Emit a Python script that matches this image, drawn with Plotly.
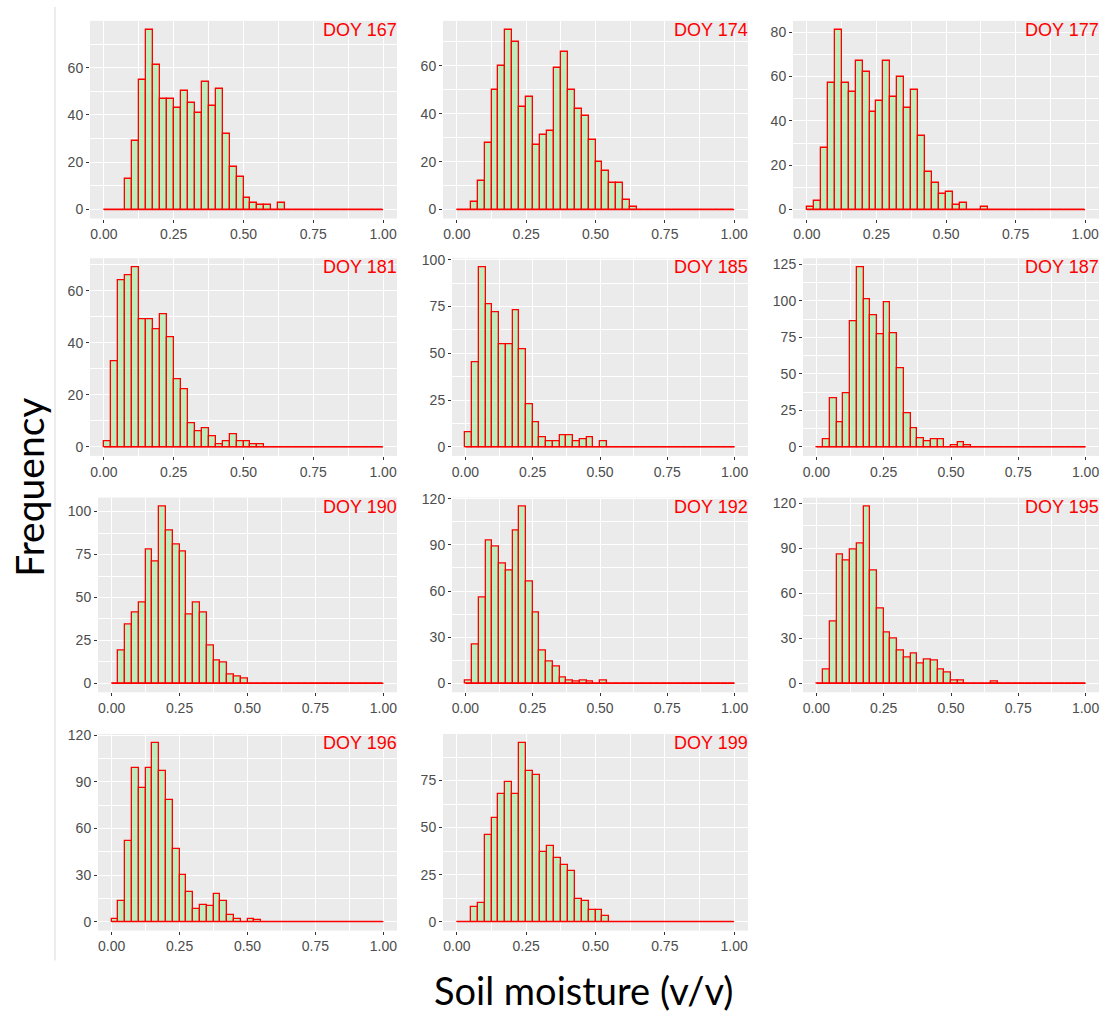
import numpy as np
import plotly.graph_objects as go

# Histogram bins: 40 bins of width 0.025 spanning soil moisture 0..1
BIN_EDGES = np.round(np.linspace(0.0, 1.0, 41), 4)
BIN_CENTERS = (BIN_EDGES[:-1] + BIN_EDGES[1:]) / 2
BIN_WIDTH = 0.025

def pad(vals):
    return vals + [0] * (40 - len(vals))

# Frequency per bin for each day of year
DOY_167 = pad([0, 0, 0, 13, 29, 55, 76, 61, 47, 47, 43, 50, 45, 41, 54, 44, 51, 32, 18, 14, 5, 3, 2, 2, 0, 3])
DOY_174 = pad([0, 0, 3, 12, 28, 50, 60, 75, 70, 43, 47, 27, 31, 33, 59, 66, 50, 42, 39, 29, 20, 16, 11, 11, 4, 1])
DOY_177 = pad([1, 4, 28, 57, 81, 57, 53, 67, 62, 44, 49, 67, 51, 60, 46, 54, 33, 17, 12, 7, 8, 2, 3, 0, 0, 1])
DOY_181 = pad([2, 33, 64, 66, 69, 49, 49, 45, 51, 42, 26, 22, 9, 6, 7, 4, 1, 2, 5, 2, 2, 1, 1])
DOY_185 = pad([8, 45, 96, 76, 72, 55, 55, 73, 52, 23, 13, 5, 3, 3, 6, 6, 3, 4, 5, 0, 3])
DOY_187 = pad([0, 5, 33, 17, 37, 86, 123, 101, 90, 77, 99, 78, 54, 23, 13, 6, 4, 5, 5, 0, 1, 3, 1])
DOY_190 = pad([0, 19, 34, 41, 47, 78, 71, 103, 89, 81, 77, 40, 47, 41, 22, 13, 12, 5, 4, 3])
DOY_192 = pad([2, 25, 56, 93, 89, 78, 73, 99, 115, 66, 46, 21, 14, 11, 4, 2, 1, 2, 1, 0, 2])
DOY_195 = pad([0, 9, 41, 86, 82, 89, 93, 118, 75, 50, 34, 30, 22, 17, 20, 13, 16, 15, 9, 7, 2, 2, 0, 0, 0, 0, 1])
DOY_196 = pad([2, 13, 52, 99, 86, 99, 115, 97, 78, 47, 30, 19, 8, 11, 10, 18, 13, 4, 2, 0, 2, 1])
DOY_199 = pad([0, 0, 8, 10, 46, 55, 68, 74, 68, 95, 80, 78, 37, 40, 34, 30, 27, 12, 11, 6, 6, 3])

PANEL_LABELS = ["DOY 167", "DOY 174", "DOY 177", "DOY 181", "DOY 185", "DOY 187",
                "DOY 190", "DOY 192", "DOY 195", "DOY 196", "DOY 199"]
PANEL_COUNTS = [DOY_167, DOY_174, DOY_177, DOY_181, DOY_185, DOY_187,
                DOY_190, DOY_192, DOY_195, DOY_196, DOY_199]
Y_DTICKS = [20, 20, 20, 20, 25, 25, 25, 30, 30, 30, 25]
X_TICKS = [0.0, 0.25, 0.5, 0.75, 1.0]

# Page geometry (pixels)
W, H = 1106, 1015
ROWS_PX = [(14, 213), (253, 452), (494, 690), (732, 930)]
COL_RIGHT_PX = [397, 748, 1099]
COL_LEFT_PX = {2: [90, 443, 793], 3: [98, 452, 803]}

FILL = "rgba(144,238,144,0.5)"
EDGE = "#FF0000"
TICK_FONT = dict(family="Liberation Sans, Arial, sans-serif", size=14, color="#4D4D4D")

fig = go.Figure()
annotations = []

for k, (label, counts, dt) in enumerate(zip(PANEL_LABELS, PANEL_COUNTS, Y_DTICKS)):
    row, col = divmod(k, 3)
    n = k + 1
    xa = "x" if n == 1 else f"x{n}"
    ya = "y" if n == 1 else f"y{n}"

    ymax = max(counts)
    y_lo, y_hi = -0.05 * ymax, 1.05 * ymax
    top_tick = int(y_hi // dt) * dt
    digits = len(str(top_tick))

    left_px = COL_LEFT_PX[3 if digits >= 3 else 2][col]
    right_px = COL_RIGHT_PX[col]
    top_px, bot_px = ROWS_PX[row]

    # baseline spanning all bins (empty bins show as a flat outline)
    fig.add_trace(go.Scatter(
        x=[BIN_EDGES[0], BIN_EDGES[-1]], y=[0, 0], mode="lines",
        line=dict(color=EDGE, width=1.3), hoverinfo="skip", showlegend=False,
        xaxis=xa, yaxis=ya))
    fig.add_trace(go.Bar(
        x=BIN_CENTERS, y=counts, width=BIN_WIDTH,
        marker=dict(color=FILL, line=dict(color=EDGE, width=1.3)),
        showlegend=False, xaxis=xa, yaxis=ya))

    xkey = "xaxis" if n == 1 else f"xaxis{n}"
    ykey = "yaxis" if n == 1 else f"yaxis{n}"
    fig.layout[xkey] = dict(
        domain=[left_px / W, right_px / W], anchor=ya,
        range=[-0.05, 1.05], tickvals=X_TICKS, ticktext=[f"{v:.2f}" for v in X_TICKS],
        showgrid=True, gridcolor="white", gridwidth=1.1, zeroline=False, showline=False,
        ticks="outside", ticklen=3, tickcolor="#333333", tickwidth=1,
        tickfont=TICK_FONT,
        minor=dict(tickvals=[0.125, 0.375, 0.625, 0.875], showgrid=True,
                   gridcolor="white", gridwidth=0.55, ticks=""),
    )
    fig.layout[ykey] = dict(
        domain=[1 - bot_px / H, 1 - top_px / H], anchor=xa,
        range=[y_lo, y_hi], tick0=0, dtick=dt,
        showgrid=True, gridcolor="white", gridwidth=1.1, zeroline=False, showline=False,
        ticks="outside", ticklen=3, tickcolor="#333333", tickwidth=1,
        tickfont=TICK_FONT,
        minor=dict(tick0=dt / 2, dtick=dt, showgrid=True,
                   gridcolor="white", gridwidth=0.55, ticks=""),
    )
    annotations.append(dict(
        text=label, xref=f"{xa} domain", yref=f"{ya} domain", x=1.0, y=1.0,
        xanchor="right", yanchor="top", showarrow=False, xshift=2, yshift=3,
        font=dict(family="Liberation Sans, Arial, sans-serif", size=18, color=EDGE)))

annotations.append(dict(
    text="Frequency", xref="paper", yref="paper", x=29 / W, y=1 - 484 / H,
    textangle=-90, showarrow=False, xanchor="center", yanchor="middle",
    font=dict(family="Lato, sans-serif", size=39, color="#000000")))
annotations.append(dict(
    text="Soil moisture (v/v)", xref="paper", yref="paper", x=583 / W, y=0,
    showarrow=False, xanchor="center", yanchor="bottom",
    font=dict(family="Lato, sans-serif", size=38, color="#000000")))

fig.update_layout(
    width=W, height=H, margin=dict(l=0, r=0, t=0, b=0),
    paper_bgcolor="white", plot_bgcolor="#EBEBEB",
    bargap=0, annotations=annotations,
    shapes=[dict(type="line", xref="paper", yref="paper",
                 x0=55 / W, x1=55 / W, y0=1 - 960 / H, y1=1,
                 line=dict(color="#D9D9D9", width=1))],
)

fig.write_html("out.html")
